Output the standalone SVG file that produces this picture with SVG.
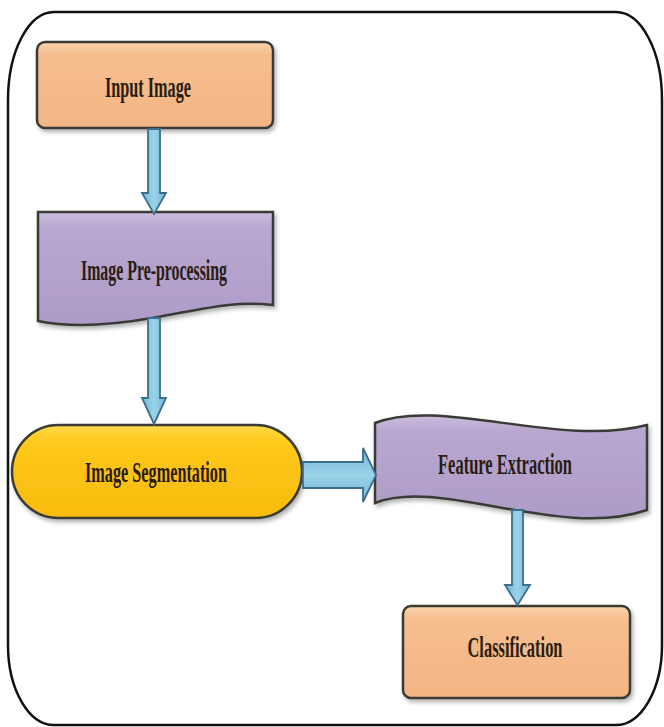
<svg xmlns="http://www.w3.org/2000/svg" width="664" height="727" viewBox="0 0 664 727">
<style>
  .frame { fill: #ffffff; stroke: #111111; stroke-width: 2.5; }
  .node { stroke: #3a3a34; stroke-width: 2.5; filter: url(#shadow); }
  .orange { fill: url(#gOrange); }
  .purple { fill: url(#gPurple); }
  .yellow { fill: url(#gYellow); }
  .label { font-family: "Liberation Serif", "Times New Roman", serif; font-weight: bold; font-size: 29px; fill: #2a1c12; text-anchor: middle; }
  .arrow { fill: url(#gArrow); stroke: #3d6d8a; stroke-width: 1.8; stroke-linejoin: miter; }
</style>
<defs>
  <linearGradient id="gOrange" x1="0" y1="0" x2="0" y2="1">
    <stop offset="0" stop-color="#fbd2ad"/>
    <stop offset="0.15" stop-color="#f6be8f"/>
    <stop offset="1" stop-color="#f4b584"/>
  </linearGradient>
  <linearGradient id="gPurple" x1="0" y1="0" x2="0" y2="1">
    <stop offset="0" stop-color="#cbbddf"/>
    <stop offset="0.15" stop-color="#b8a7d0"/>
    <stop offset="1" stop-color="#ae9cc8"/>
  </linearGradient>
  <linearGradient id="gYellow" x1="0" y1="0" x2="0" y2="1">
    <stop offset="0" stop-color="#ffd84a"/>
    <stop offset="0.2" stop-color="#ffc81a"/>
    <stop offset="1" stop-color="#f7bb0c"/>
  </linearGradient>
  <linearGradient id="gArrow" x1="0" y1="0" x2="1" y2="0">
    <stop offset="0" stop-color="#6fb8d6"/>
    <stop offset="0.5" stop-color="#9ad3e8"/>
    <stop offset="1" stop-color="#6fb8d6"/>
  </linearGradient>
  <linearGradient id="gArrowH" x1="0" y1="0" x2="0" y2="1">
    <stop offset="0" stop-color="#6fb8d6"/>
    <stop offset="0.5" stop-color="#9ad3e8"/>
    <stop offset="1" stop-color="#6fb8d6"/>
  </linearGradient>
  <filter id="shadow" x="-10%" y="-10%" width="125%" height="130%">
    <feDropShadow dx="2" dy="3" stdDeviation="2" flood-color="#000000" flood-opacity="0.3"/>
  </filter>
</defs>

<path class="frame" d="M54,12 H616 A46,88 0 0 1 662,100 V645 A46,80 0 0 1 616,725 H54 A46,80 0 0 1 8,645 V100 A46,88 0 0 1 54,12 Z"/>

<g id="input-image">
  <rect class="node orange" x="37" y="42" width="236" height="86" rx="8"/>
  <text class="label" x="148" y="97" textLength="86" lengthAdjust="spacingAndGlyphs">Input Image</text>
</g>

<g id="image-preprocessing">
  <path class="node purple" d="M38,212 H273 V305 C232,300 200,310 152,318 C112,325 72,328 38,321 Z"/>
  <text class="label" x="154" y="280" textLength="146" lengthAdjust="spacingAndGlyphs">Image Pre-processing</text>
</g>

<g id="image-segmentation">
  <rect class="node yellow" x="12" y="425" width="290" height="93" rx="46.5"/>
  <text class="label" x="156" y="482" textLength="142" lengthAdjust="spacingAndGlyphs">Image Segmentation</text>
</g>

<g id="feature-extraction">
  <path class="node purple" d="M375,423 C440,397 560,448 647,425 V510 C560,540 440,477 375,503 Z"/>
  <text class="label" x="505" y="474" font-size="28" textLength="134" lengthAdjust="spacingAndGlyphs">Feature Extraction</text>
</g>

<g id="classification">
  <rect class="node orange" x="403" y="606" width="227" height="92" rx="8"/>
  <text class="label" x="515" y="657" textLength="95" lengthAdjust="spacingAndGlyphs">Classification</text>
</g>

<g id="connectors">
  <polygon class="arrow" points="148,129 160,129 160,193 166,193 154,214 142,193 148,193"/>
  <polygon class="arrow" points="148,318 160,318 160,398 166,398 154,424 142,398 148,398"/>
  <polygon class="arrow" style="fill:url(#gArrowH)" points="303,462 363,462 363,448 376,475 363,502 363,488 303,488"/>
  <polygon class="arrow" points="512,510 523,510 523,585 530,585 517.5,605 505,585 512,585"/>
</g>
</svg>
